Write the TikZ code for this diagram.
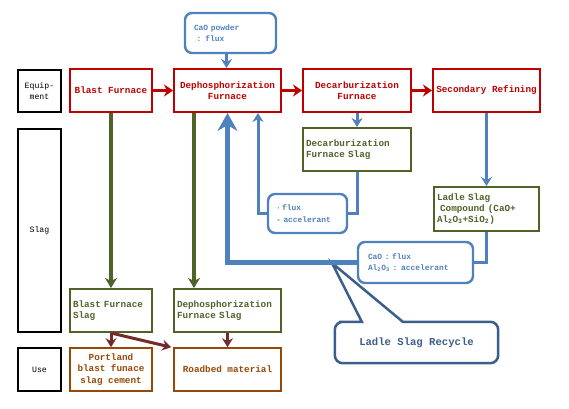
\documentclass[tikz,border=0pt]{standalone}
\usepackage{fontspec}
\setmonofont{Liberation Mono}
\usetikzlibrary{arrows.meta}
\definecolor{cred}{HTML}{C00000}
\definecolor{cgreen}{HTML}{4F6228}
\definecolor{cblue}{HTML}{4F81BD}
\definecolor{cdblue}{HTML}{3B5E8C}
\definecolor{cbrown}{HTML}{984806}
\definecolor{cmaroon}{HTML}{762B2B}
\tikzset{
  txt/.style={font=\ttfamily\bfseries\fontsize{9.3}{11.5}\selectfont},
  small/.style={font=\ttfamily\bfseries\fontsize{7.9}{11.5}\selectfont},
  lbl/.style={draw=black, line width=1.1pt, font=\ttfamily\fontsize{8.2}{10.5}\selectfont, align=center, inner sep=1pt, minimum width=43, minimum height=42},
  redbox/.style={draw=cred, line width=2pt, text=cred, txt, align=center, minimum height=43, inner sep=1pt},
  greenbox/.style={draw=cgreen, line width=2pt, text=cgreen, txt, align=left, minimum height=43, inner sep=3pt},
  brownbox/.style={draw=cbrown, line width=1.6pt, text=cbrown, txt, align=center, minimum width=82, minimum height=43, inner sep=1pt},
  bluebox/.style={draw=cblue, line width=2.4pt, rounded corners=7pt, text=cblue, small, align=left, inner sep=3pt},
  redarr/.style={draw=cred, line width=3.5pt, -{Stealth[length=9pt,width=12pt,inset=3pt]}},
  greenarr/.style={draw=cgreen, line width=3.5pt, -{Stealth[length=10pt,width=12pt,inset=3pt]}},
  bluearr/.style={draw=cblue, line width=3pt, -{Stealth[length=9pt,width=11pt,inset=3pt]}},
  blueline/.style={draw=cblue, line width=3pt},
  bigarr/.style={draw=cblue, line width=5pt, -{Stealth[length=18pt,width=20pt,inset=6pt]}},
  maroonarr/.style={draw=cmaroon, line width=3pt, -{Stealth[length=9pt,width=11pt,inset=3pt]}},
}
\begin{document}
\begin{tikzpicture}[x=1pt,y=-1pt]
\useasboundingbox (0,0) rectangle (569,408);
\fill[white] (0,0) rectangle (569,408);

% left labels
\node[lbl] (eq) at (39.5,91) {Equip-\\ment};
\node[lbl, minimum height=203] (slaglbl) at (39.5,230.5) {Slag};
\node[lbl, minimum height=43] (uselbl) at (39.5,369.5) {Use};

% equipment
\node[redbox, minimum width=82] (bf) at (111,90.5) {Blast Furnace};
\node[redbox, minimum width=107] (dp) at (227.5,90.5) {Dephosphorization\\Furnace};
\node[redbox, minimum width=108] (dc) at (357,90.5) {Decarburization\\Furnace};
\node[redbox, minimum width=107] (sr) at (486.5,90.5) {Secondary Refining};

\node[bluebox, minimum width=91, minimum height=40, inner xsep=9pt, text width=73] (cao) at (230.5,33) {CaO powder\\\ : flux};

% slag
\node[greenbox, minimum width=108, text width=102] (dcs) at (357,149.5) {Decarburization\\Furnace Slag};
\node[bluebox, minimum width=79, minimum height=39, text width=68] (flux) at (307.5,213.5) {\ ·\,flux\\\ - accelerant};
\node[greenbox, minimum width=105, minimum height=44, text width=99, inner sep=2pt, font=\ttfamily\bfseries\fontsize{9.3}{10.8}\selectfont] (lsc) at (486.5,209) {Ladle Slag\\\ Compound (CaO+\\Al\textsubscript{2}O\textsubscript{3}+SiO\textsubscript{2})};
\node[bluebox, minimum width=115, minimum height=41, inner xsep=10pt, text width=95] (cf) at (415.5,262.5) {CaO : flux\\Al\textsubscript{2}O\textsubscript{3} : accelerant};

\node[greenbox, minimum width=82, text width=76] (bfs) at (111,310.5) {Blast Furnace\\Slag};
\node[greenbox, minimum width=107, text width=101] (dps) at (227.5,310.5) {Dephosphorization\\Furnace Slag};

% use
\node[brownbox] (pc) at (111,369.5) {Portland\\blast funace\\slag cement};
\node[brownbox, minimum width=107] (rb) at (227.5,369.5) {Roadbed material};

% callout
\node[text=cdblue, font=\ttfamily\bfseries\fontsize{10.6}{12}\selectfont, minimum width=163, minimum height=41, inner sep=0pt] (lsr) at (416.5,342.5) {Ladle Slag Recycle};
\coordinate (tip) at (332,263);
\draw[cdblue, line width=2.5pt, line join=miter]
  ([xshift=12]lsr.north west) -- ([xshift=27]lsr.north west) -- (tip) -- ([xshift=68]lsr.north west) -- ([xshift=80]lsr.north west)
  [rounded corners=8pt] -- (lsr.north east) -- (lsr.south east) -- (lsr.south west) -- (lsr.north west) -- cycle;

% red process arrows
\draw[redarr] (bf.east) -- (dp.west);
\draw[redarr] (dp.east) -- (dc.west);
\draw[redarr] (dc.east) -- (sr.west);

% blue
\draw[bluearr] ([xshift=-4]cao.south) -- ([xshift=-4]cao.south |- dp.north);
\draw[bluearr] (dc.south) -- (dcs.north);
\draw[bluearr] (sr.south) -- (lsc.north);
\draw[blueline] (dcs.south) |- (flux.east);
\draw[bluearr] (flux.west) -| ([xshift=30.5]dp.south);
\draw[blueline] (lsc.south) |- (cf.east);
\draw[bigarr] (cf.west) -| (dp.south);

% green slag arrows
\draw[greenarr] (bf.south) -- (bfs.north);
\draw[greenarr] ([xshift=-33.5]dp.south) -- ([xshift=-33.5]dps.north);

% maroon use arrows
\draw[maroonarr] (bfs.south) -- (pc.north);
\draw[maroonarr] (bfs.south) -- ([xshift=-2]rb.north west);
\draw[maroonarr] (dps.south) -- (rb.north);
\end{tikzpicture}
\end{document}
